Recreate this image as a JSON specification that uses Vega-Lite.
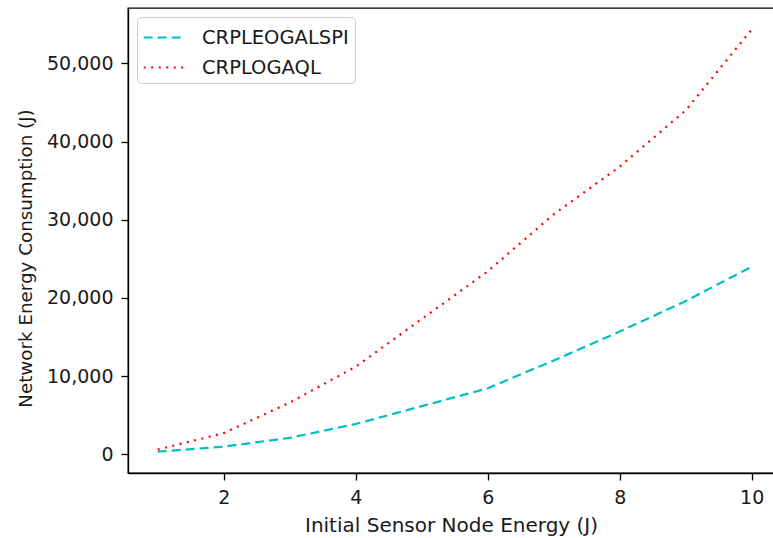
{
  "$schema": "https://vega.github.io/schema/vega-lite/v6.json",
  "autosize": {"type": "none"},
  "padding": {"left": 128, "top": 8, "right": 0, "bottom": 65},
  "width": 646,
  "height": 465,
  "background": "white",
  "config": {
    "font": "DejaVu Sans",
    "view": {"stroke": "black", "strokeWidth": 1.3},
    "axis": {"grid": false, "domainColor": "black", "domainWidth": 1.3, "tickColor": "black", "tickWidth": 1.3, "tickSize": 7, "labelFont": "DejaVu Sans", "labelFontSize": 19, "labelColor": "#1a1a1a", "titleFont": "DejaVu Sans", "titleFontWeight": "normal", "titleColor": "#1a1a1a"}
  },
  "data": {
    "values": [
      {"x": 1, "series": "CRPLEOGALSPI", "y": 330},
      {"x": 2, "series": "CRPLEOGALSPI", "y": 970},
      {"x": 3, "series": "CRPLEOGALSPI", "y": 2100},
      {"x": 4, "series": "CRPLEOGALSPI", "y": 3870},
      {"x": 5, "series": "CRPLEOGALSPI", "y": 6150},
      {"x": 6, "series": "CRPLEOGALSPI", "y": 8440},
      {"x": 7, "series": "CRPLEOGALSPI", "y": 12000},
      {"x": 8, "series": "CRPLEOGALSPI", "y": 15700},
      {"x": 9, "series": "CRPLEOGALSPI", "y": 19600},
      {"x": 10, "series": "CRPLEOGALSPI", "y": 24000},
      {"x": 1, "series": "CRPLOGAQL", "y": 600},
      {"x": 2, "series": "CRPLOGAQL", "y": 2700},
      {"x": 3, "series": "CRPLOGAQL", "y": 6600},
      {"x": 4, "series": "CRPLOGAQL", "y": 11200},
      {"x": 5, "series": "CRPLOGAQL", "y": 17300},
      {"x": 6, "series": "CRPLOGAQL", "y": 23400},
      {"x": 7, "series": "CRPLOGAQL", "y": 30700},
      {"x": 8, "series": "CRPLOGAQL", "y": 36800},
      {"x": 9, "series": "CRPLOGAQL", "y": 44000},
      {"x": 10, "series": "CRPLOGAQL", "y": 54350}
    ]
  },
  "mark": {"type": "line", "strokeWidth": 2.2, "strokeCap": "butt"},
  "encoding": {
    "x": {"field": "x", "type": "quantitative", "scale": {"domain": [0.55, 10.338], "nice": false, "zero": false},
      "axis": {"values": [2, 4, 6, 8, 10], "title": "Initial Sensor Node Energy (J)", "titleFontSize": 20, "labelPadding": 8, "titlePadding": 8}},
    "y": {"field": "y", "type": "quantitative", "scale": {"domain": [-2400, 57100], "nice": false, "zero": false},
      "axis": {"values": [0, 10000, 20000, 30000, 40000, 50000], "format": ",d", "title": "Network Energy Consumption (J)", "titleFontSize": 18.3, "titleY": 250, "labelPadding": 8, "titlePadding": 11}},
    "color": {"field": "series", "type": "nominal", "scale": {"domain": ["CRPLEOGALSPI", "CRPLOGAQL"], "range": ["#00bfbf", "#ff0000"]},
      "legend": {"title": null, "orient": "top-left", "offset": 9, "padding": 6, "fillColor": "white", "strokeColor": "#cccccc", "cornerRadius": 4, "symbolType": "M-1.6,0H1.6", "symbolSize": 676, "symbolOffset": 7, "symbolStrokeWidth": 2.2, "labelFontSize": 19.5, "labelFont": "DejaVu Sans", "labelColor": "#1a1a1a", "labelOffset": 23, "rowPadding": 6}},
    "strokeDash": {"field": "series", "type": "nominal", "scale": {"domain": ["CRPLEOGALSPI", "CRPLOGAQL"], "range": [[9, 5], [2, 5.5]]}, "legend": null}
  }
}
